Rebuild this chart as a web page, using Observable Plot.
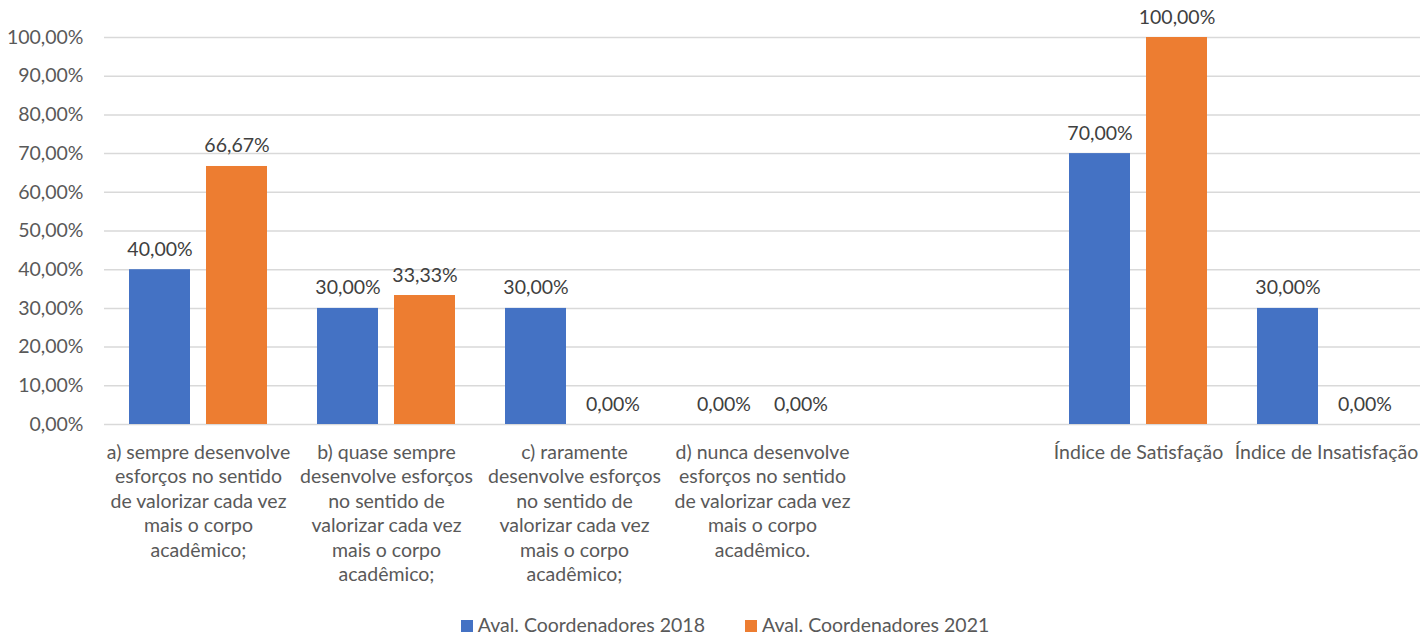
<!DOCTYPE html>
<html><head><meta charset="utf-8">
<script src="https://cdn.jsdelivr.net/npm/d3@7"></script>
<script src="https://cdn.jsdelivr.net/npm/@observablehq/plot@0.6"></script>
<style>
body{margin:0;background:#fff;font-family:Lato,"Liberation Sans",sans-serif;overflow:hidden;}
#legend{display:flex;justify-content:center;gap:40px;font-size:19.5px;line-height:18px;color:#595959;margin-top:16px;padding-left:30px;}
#legend span.sw{display:inline-block;width:12px;height:12px;margin-right:5px;}
</style></head>
<body>
<div id="chart"></div>
<div id="legend"></div>
<script>
const categories = [
  "a) sempre desenvolve\nesforços no sentido\nde valorizar cada vez\nmais o corpo\nacadêmico;",
  "b) quase sempre\ndesenvolve esforços\nno sentido de\nvalorizar cada vez\nmais o corpo\nacadêmico;",
  "c) raramente\ndesenvolve esforços\nno sentido de\nvalorizar cada vez\nmais o corpo\nacadêmico;",
  "d) nunca desenvolve\nesforços no sentido\nde valorizar cada vez\nmais o corpo\nacadêmico.",
  " ",
  "Índice de Satisfação",
  "Índice de Insatisfação"
];
const series = ["Aval. Coordenadores 2018", "Aval. Coordenadores 2021"];
const colors = ["#4472C4", "#ED7D31"];
const values2018 = [0.40, 0.30, 0.30, 0.00, null, 0.70, 0.30];
const values2021 = [0.6667, 0.3333, 0.00, 0.00, null, 1.00, 0.00];
const yTicks = [0, 0.1, 0.2, 0.3, 0.4, 0.5, 0.6, 0.7, 0.8, 0.9, 1.0];

const data = [];
categories.forEach((c, i) => {
  if (values2018[i] != null) data.push({category: c, series: series[0], value: values2018[i]});
  if (values2021[i] != null) data.push({category: c, series: series[1], value: values2021[i]});
});
const gridData = categories.flatMap(c => yTicks.map(t => ({category: c, tick: t})));
const pct = d => (d * 100).toFixed(2).replace(".", ",") + "%";
const font = "Lato, 'Liberation Sans', sans-serif";

const chart = Plot.plot({
  width: 1420,
  height: 600,
  marginLeft: 103,
  marginRight: 0,
  marginTop: 37,
  marginBottom: 176,
  style: {fontFamily: font, fontSize: "19.5px", color: "#595959", background: "#fff"},
  fx: {domain: categories, padding: 0, label: null},
  x: {domain: series, paddingInner: 0.205, paddingOuter: 0.308, axis: null},
  y: {domain: [0, 1], label: null},
  color: {domain: series, range: colors},
  marks: [
    Plot.ruleY(gridData, {fx: "category", y: "tick", stroke: "#d9d9d9", strokeWidth: 1.5}),
    Plot.axisY(yTicks, {facetAnchor: "left", tickSize: 0, tickPadding: 21, tickFormat: pct, fontSize: 19.5, fill: "#595959", label: null}),
    Plot.axisFx({anchor: "bottom", tickSize: 0, tickPadding: 17, fontSize: 19.5, lineHeight: 1.255, fill: "#595959", label: null, lineAnchor: "top"}),
    Plot.barY(data, {fx: "category", x: "series", y: "value", fill: "series"}),
    Plot.text(data, {fx: "category", x: "series", y: "value", text: d => pct(d.value), lineAnchor: "bottom", dy: -14, fontSize: 19.5, fill: "#404040"})
  ]
});
document.getElementById("chart").appendChild(chart);

const legend = document.getElementById("legend");
series.forEach((s, i) => {
  const item = document.createElement("div");
  item.innerHTML = `<span class="sw" style="background:${colors[i]}"></span>${s}`;
  legend.appendChild(item);
});
</script>
</body></html>
